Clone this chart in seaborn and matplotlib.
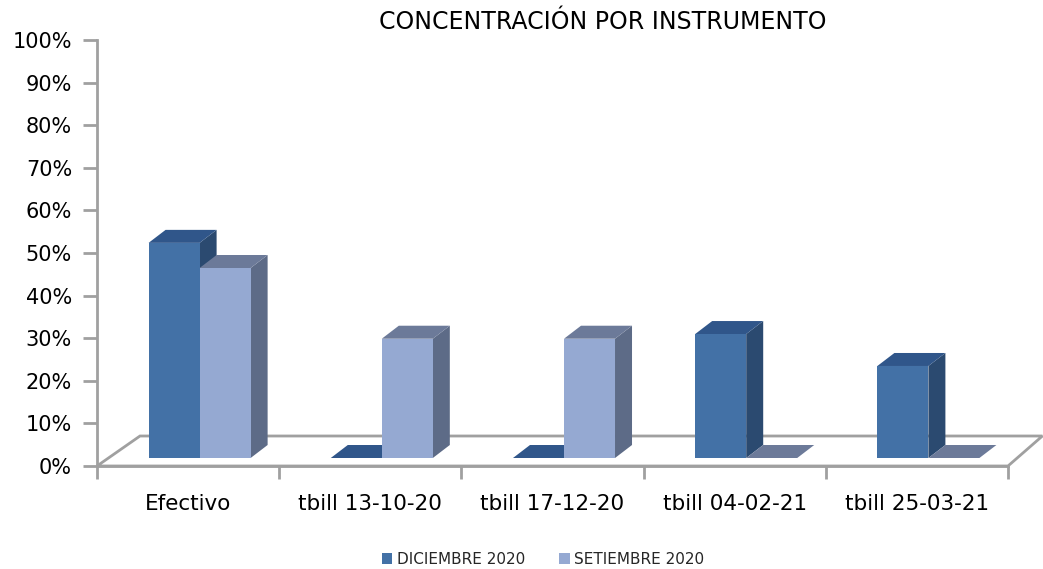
import matplotlib
matplotlib.use("Agg")
import matplotlib.pyplot as plt
from matplotlib.patches import Polygon, Patch
import seaborn as sns
import pandas as pd

categories = ["Efectivo", "tbill 13-10-20", "tbill 17-12-20", "tbill 04-02-21", "tbill 25-03-21"]
series_names = ["DICIEMBRE 2020", "SETIEMBRE 2020"]
dic_values = [0.505, 0.0, 0.0, 0.291, 0.216]
sep_values = [0.446, 0.280, 0.280, 0.0, 0.0]
y_ticks = [0, 0.1, 0.2, 0.3, 0.4, 0.5, 0.6, 0.7, 0.8, 0.9, 1.0]
y_tick_labels = ["0%", "10%", "20%", "30%", "40%", "50%", "60%", "70%", "80%", "90%", "100%"]
title = "CONCENTRACIÓN POR INSTRUMENTO"

front_cols = ["#4371A6", "#95A9D2"]
top_cols = ["#30568A", "#6C7A99"]
side_cols = ["#2B4A70", "#5D6B87"]
grey = "#A0A0A0"

df = pd.DataFrame({
    "cat": categories * 2,
    "val": dic_values + sep_values,
    "serie": [series_names[0]] * len(categories) + [series_names[1]] * len(categories),
})

sns.set_style("white")
plt.rcParams["font.family"] = ["DejaVu Sans"]

W, H = 1043, 569
fig = plt.figure(figsize=(W / 100, H / 100), dpi=100)
ax = fig.add_axes([97 / W, 103 / H, 911 / W, 426 / H])

sns.barplot(data=df, x="cat", y="val", hue="serie", palette=front_cols,
            width=0.56, dodge=True, ax=ax, legend=False, saturation=1,
            linewidth=0, edgecolor="none")

ax.set_xlim(-0.5, len(categories) - 0.5)
ax.set_ylim(0, 1)

pxx = 911 / len(categories)   # pixels per x unit
pxy = 426.0                   # pixels per y unit
sx, sy = 11.5 / pxx, 8 / pxy   # bar placement on the floor
ddx, ddy = 17 / pxx, 13 / pxy  # bar depth
fdx, fdy = 43 / 911, 30 / 426  # floor depth (axes fraction)

# floor
floor = Polygon([(0, 0), (1, 0), (1 + fdx * 0.8, fdy), (fdx, fdy)], closed=True,
                transform=ax.transAxes, facecolor="white", edgecolor=grey,
                linewidth=2, clip_on=False, zorder=0.5)
ax.add_patch(floor)

patches = [p for p in ax.patches if p is not floor]
n = len(categories)
order = []
for i in range(n):
    for s in range(2):
        order.append((s, patches[s * n + i]))

z = 2
for s, p in order:
    x0 = p.get_x() + sx
    w = p.get_width()
    h = p.get_height()
    y0 = sy
    p.set_x(x0)
    p.set_y(y0)
    p.set_zorder(z + 2)
    top = Polygon([(x0, y0 + h), (x0 + w, y0 + h), (x0 + w + ddx, y0 + h + ddy), (x0 + ddx, y0 + h + ddy)],
                  closed=True, facecolor=top_cols[s], edgecolor="none", zorder=z + 1, clip_on=False)
    ax.add_patch(top)
    if h > 0:
        side = Polygon([(x0 + w, y0), (x0 + w + ddx, y0 + ddy), (x0 + w + ddx, y0 + h + ddy), (x0 + w, y0 + h)],
                       closed=True, facecolor=side_cols[s], edgecolor="none", zorder=z, clip_on=False)
        ax.add_patch(side)
    z += 3

# axes styling
for sp in ["top", "right"]:
    ax.spines[sp].set_visible(False)
ax.spines["left"].set_color(grey)
ax.spines["left"].set_linewidth(2)
ax.spines["bottom"].set_color(grey)
ax.spines["bottom"].set_linewidth(2)
ax.spines["bottom"].set_zorder(1)

ax.set_yticks(y_ticks)
ax.set_yticklabels(y_tick_labels)
ax.tick_params(axis="y", length=10, width=2, color=grey, labelsize=15, labelcolor="black", pad=8, direction="out", left=True)
ax.set_xticks(range(n))
ax.set_xticklabels(categories)
ax.tick_params(axis="x", which="major", length=0, labelsize=15.5, labelcolor="black", pad=20)
ax.set_xticks([i - 0.5 for i in range(n + 1)], minor=True)
ax.tick_params(axis="x", which="minor", length=9, width=2, color=grey, direction="out", bottom=True)
ax.set_xlabel("")
ax.set_ylabel("")
ax.grid(False)

fig.text(603 / W, 1 - 22 / H, title, ha="center", va="center", fontsize=17, color="black")

handles = [Patch(facecolor=front_cols[0], edgecolor="none"), Patch(facecolor=front_cols[1], edgecolor="none")]
fig.legend(handles, series_names, loc="center", bbox_to_anchor=(543 / W, 1 - 559 / H), ncol=2,
           frameon=False, fontsize=11, handlelength=0.7, handleheight=0.7, handletextpad=0.3,
           columnspacing=2.2)

fig.savefig("out.png", dpi=100, facecolor="white")
